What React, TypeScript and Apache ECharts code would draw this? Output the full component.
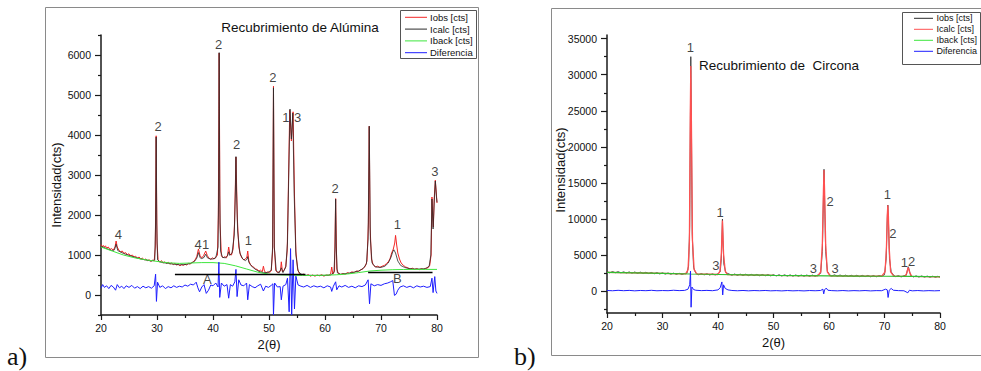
import React, { useEffect, useRef } from 'react';
import * as echarts from 'echarts';

const FONT = '"Liberation Sans", Arial, Helvetica, sans-serif';

// ---------- Panel a) Recubrimiento de Alúmina ----------
const aluIobs: number[][] = [
  [20,1260],[20.2,1190],[20.4,1240],[20.6,1200],[20.8,1230],[21,1170],[21.3,1200],[21.6,1140],[21.9,1160],[22.2,1120],[22.5,1200],[22.7,1350],[22.9,1200],[23.2,1120],[23.5,1080],[23.8,1100],[24.1,1040],[24.4,1060],[24.7,1010],[25,1030],[25.3,980],[25.6,1000],[25.9,950],[26.2,970],[26.5,920],[26.8,950],[27.1,900],[27.4,920],[27.7,880],[28,900],[28.3,860],[28.6,880],[28.9,840],[29.2,870],[29.5,850],[29.7,1200],[29.85,3980],[30,1300],[30.2,880],[30.5,820],[30.8,860],[31.1,800],[31.4,830],[31.7,790],[32,820],[32.3,770],[32.6,800],[32.9,760],[33.2,790],[33.5,750],[33.8,770],[34.1,730],[34.4,760],[34.7,740],[35,770],[35.3,750],[35.6,790],[35.9,770],[36.2,810],[36.5,830],[36.8,880],[37.1,960],[37.4,1150],[37.7,980],[38,930],[38.3,980],[38.7,1100],[39,980],[39.3,920],[39.6,890],[39.9,930],[40.2,900],[40.5,950],[40.8,1000],[40.95,2000],[41.1,6050],[41.25,1800],[41.5,980],[41.8,930],[42.1,960],[42.4,930],[42.6,1000],[42.8,1200],[43,1020],[43.3,1000],[43.6,1150],[43.85,1800],[44.1,3450],[44.35,1900],[44.6,1200],[44.9,1000],[45.2,920],[45.5,880],[45.8,900],[46.05,950],[46.2,1100],[46.4,850],[46.7,760],[47,720],[47.3,690],[47.6,650],[47.9,640],[48.2,600],[48.5,620],[48.8,580],[49,720],[49.2,590],[49.5,560],[49.8,580],[50.1,560],[50.4,600],[50.65,1100],[50.8,5220],[50.95,1200],[51.2,620],[51.5,560],[51.8,580],[52.05,600],[52.2,830],[52.4,580],[52.7,620],[53,720],[53.25,1100],[53.45,2600],[53.7,4620],[54,3850],[54.3,4580],[54.55,2500],[54.8,1100],[55.1,650],[55.4,540],[55.8,500],[56.2,520],[56.6,480],[57,510],[57.4,470],[57.8,500],[58.2,470],[58.6,500],[59,480],[59.4,510],[59.8,470],[60.2,500],[60.6,490],[61,520],[61.2,700],[61.4,520],[61.7,600],[61.9,2410],[62.1,650],[62.4,530],[62.8,510],[63.2,540],[63.6,520],[64,560],[64.4,540],[64.8,580],[65.2,560],[65.6,600],[66,590],[66.4,630],[66.8,660],[67.2,720],[67.5,850],[67.75,1800],[67.9,4220],[68.05,1700],[68.3,900],[68.6,760],[69,700],[69.4,720],[69.8,690],[70.2,720],[70.6,740],[71,790],[71.3,830],[71.6,900],[71.9,1050],[72.2,1150],[72.45,1300],[72.6,1490],[72.8,1250],[73,1050],[73.3,900],[73.6,800],[74,740],[74.4,700],[74.8,680],[75.2,650],[75.6,670],[76,640],[76.4,660],[76.8,630],[77.2,660],[77.6,640],[78,670],[78.4,680],[78.7,740],[78.95,1000],[79.1,2450],[79.25,1900],[79.35,1700],[79.5,2400],[79.7,2870],[79.85,2600],[80,2300]
];
const aluIcalc: number[][] = [
  [20,1220],[21,1160],[22,1110],[22.4,1130],[22.7,1270],[23,1110],[24,1040],[25,990],[26,945],[27,905],[28,875],[29,850],[29.6,880],[29.75,1800],[29.85,3950],[29.95,1800],[30.1,880],[30.5,830],[31,810],[32,790],[33,770],[34,755],[35,760],[36,790],[36.7,840],[37.1,920],[37.4,1060],[37.7,930],[38,910],[38.4,940],[38.7,1020],[39,930],[39.5,900],[40,900],[40.5,930],[40.9,1200],[41,2500],[41.1,6060],[41.2,2500],[41.35,1100],[41.7,940],[42.2,930],[42.6,980],[42.8,1080],[43,990],[43.4,1050],[43.8,1500],[44,2600],[44.1,3460],[44.2,2600],[44.4,1600],[44.8,1050],[45.3,900],[45.8,860],[46.1,900],[46.2,960],[46.4,820],[46.8,730],[47.5,650],[48.2,590],[49,560],[49.8,560],[50.4,620],[50.65,1200],[50.8,5180],[50.95,1200],[51.3,600],[51.8,550],[52.2,680],[52.5,560],[53,700],[53.3,1300],[53.5,2800],[53.75,4650],[54,3900],[54.25,4550],[54.5,2500],[54.8,1000],[55.2,600],[55.7,520],[56.5,495],[58,490],[60,490],[61,500],[61.6,560],[61.8,1200],[61.9,2400],[62,1200],[62.2,560],[62.8,520],[64,540],[65,565],[66,600],[66.8,660],[67.4,780],[67.7,1400],[67.9,4220],[68.1,1400],[68.4,800],[69,700],[70,690],[70.7,720],[71.3,800],[71.8,950],[72.1,1080],[72.3,1130],[72.6,1050],[73,850],[73.5,740],[74.2,690],[75,660],[76,650],[77,650],[78,660],[78.6,720],[78.9,1000],[79.1,2400],[79.3,1650],[79.5,2300],[79.7,2850],[79.9,2450],[80,2320]
];
const aluIback: number[][] = [
  [20,1200],[22,1100],[24,1000],[26,930],[28,880],[30,840],[32,805],[34,790],[36,800],[38,810],[40,810],[42,790],[44,730],[46,650],[48,570],[50,520],[52,505],[54,495],[56,490],[58,490],[60,495],[62,505],[64,525],[66,560],[68,600],[70,620],[72,632],[74,638],[76,640],[78,640],[80,640]
];
const aluDif: number[][] = [
  [20,170],[20.3,260],[20.6,190],[21,230],[21.4,160],[21.8,240],[22.2,200],[22.6,120],[22.9,260],[23.3,180],[23.7,220],[24.1,160],[24.5,230],[25,190],[25.5,240],[26,170],[26.5,210],[27,160],[27.5,220],[28,180],[28.5,210],[29,170],[29.5,230],[29.75,520],[29.9,-160],[30.1,320],[30.5,190],[31,230],[31.5,160],[32,210],[32.5,180],[33,230],[33.5,190],[34,220],[34.5,200],[35,250],[35.5,220],[36,270],[36.5,250],[37,320],[37.3,180],[37.6,80],[38,200],[38.4,260],[38.8,40],[39.2,120],[39.6,250],[40,230],[40.5,300],[40.9,200],[41.05,820],[41.2,-60],[41.5,300],[42,220],[42.5,260],[42.8,-80],[43.1,260],[43.5,220],[43.9,330],[44.1,640],[44.3,-40],[44.6,380],[45,250],[45.5,230],[46,300],[46.2,-120],[46.5,260],[47,210],[47.5,180],[48,230],[48.5,270],[49,100],[49.4,220],[49.9,190],[50.4,240],[50.7,280],[50.8,-500],[51,300],[51.5,200],[52,210],[52.2,-120],[52.5,220],[53,260],[53.3,420],[53.6,-420],[53.85,1160],[54.05,-500],[54.3,880],[54.55,-350],[54.8,470],[55.2,250],[55.7,220],[56.2,200],[56.8,240],[57.4,190],[58,230],[58.6,200],[59.2,220],[59.8,180],[60.4,230],[61,200],[61.2,90],[61.5,220],[61.9,330],[62.1,130],[62.5,230],[63,200],[63.6,240],[64.2,190],[64.8,220],[65.4,180],[66,230],[66.6,210],[67.2,250],[67.7,380],[67.95,-220],[68.2,280],[68.8,230],[69.4,260],[70,240],[70.6,280],[71.2,300],[71.7,330],[72.1,360],[72.4,-10],[72.7,20],[73,120],[73.4,200],[74,230],[74.6,190],[75.2,220],[75.8,180],[76.4,230],[77,200],[77.6,220],[78.2,190],[78.8,210],[79.1,420],[79.3,60],[79.6,460],[79.8,100],[80,40]
];
// reference lines A and B: [x1, x2, y]
const aluRefLines: number[][] = [[33.2, 56.5, 520], [67.7, 79.2, 558]];
// peak labels: [text, x, y]
const aluMarks: [string, number, number][] = [
  ['4', 23.1, 1510], ['2', 30.2, 4220], ['4', 37.35, 1270], ['1', 38.7, 1270],
  ['2', 41.0, 6260], ['2', 44.2, 3770], ['1', 46.3, 1370], ['2', 50.7, 5450],
  ['1', 53.0, 4430], ['3', 55.1, 4430], ['2', 61.8, 2660], ['1', 72.9, 1760],
  ['3', 79.6, 3100], ['A', 39.0, 380], ['B', 72.9, 420]
];
const aluYLabels = [0, 1000, 2000, 3000, 4000, 5000, 6000];
const aluYMinor = [-500, 500, 1500, 2500, 3500, 4500, 5500, 6500];

// ---------- Panel b) Recubrimiento de Circona ----------
const zrIobs: number[][] = [
  [20,2720],[20.5,2560],[21,2740],[21.5,2580],[22,2730],[22.5,2560],[23,2700],[23.5,2540],[24,2690],[24.5,2520],[25,2680],[25.5,2500],[26,2660],[26.5,2480],[27,2640],[27.5,2460],[28,2610],[28.5,2430],[29,2590],[29.5,2410],[30,2560],[30.5,2390],[31,2540],[31.5,2370],[32,2520],[32.5,2350],[33,2500],[33.5,2330],[34,2480],[34.4,2500],[34.7,3500],[34.9,9000],[35.05,26000],[35.1,32500],[35.2,24000],[35.35,8000],[35.6,3300],[36,2500],[36.5,2300],[37,2460],[37.5,2280],[38,2440],[38.5,2260],[39,2420],[39.5,2270],[40,2440],[40.4,2700],[40.6,4500],[40.75,8500],[40.8,10000],[40.9,7000],[41.05,3800],[41.4,2600],[42,2400],[42.5,2220],[43,2400],[43.5,2210],[44,2380],[44.5,2200],[45,2370],[45.5,2180],[46,2350],[46.5,2170],[47,2340],[47.5,2160],[48,2330],[48.5,2150],[49,2320],[49.5,2140],[50,2310],[50.5,2130],[51,2300],[51.5,2120],[52,2290],[52.5,2110],[53,2280],[53.5,2100],[54,2270],[54.5,2090],[55,2260],[55.5,2090],[56,2260],[56.5,2080],[57,2250],[57.5,2100],[58,2260],[58.5,2500],[58.8,5500],[59,13000],[59.1,16900],[59.2,13000],[59.4,5500],[59.7,2800],[60.1,2300],[60.5,2120],[61,2280],[61.5,2100],[62,2260],[62.5,2080],[63,2240],[63.5,2060],[64,2230],[64.5,2050],[65,2220],[65.5,2040],[66,2210],[66.5,2030],[67,2200],[67.5,2020],[68,2190],[68.5,2010],[69,2180],[69.5,2100],[70,2300],[70.3,4500],[70.5,10000],[70.6,11950],[70.7,10000],[70.9,4500],[71.2,2700],[71.6,2250],[72,2040],[72.5,2170],[73,2000],[73.5,2160],[73.9,2200],[74.15,3000],[74.3,3400],[74.45,3000],[74.7,2200],[75.2,1990],[75.7,2140],[76.2,1980],[76.7,2130],[77.2,1970],[77.7,2110],[78.2,1950],[78.7,2100],[79.2,1940],[79.6,2080],[80,1960]
];
const zrIcalc: number[][] = [
  [20,2620],[25,2560],[30,2480],[34.2,2420],[34.6,3000],[34.85,7000],[35,24000],[35.1,31200],[35.2,24000],[35.4,7000],[35.7,3000],[36.2,2400],[40,2330],[40.35,2800],[40.6,5200],[40.8,9800],[41,5200],[41.3,2800],[41.7,2320],[45,2270],[50,2220],[55,2180],[58,2160],[58.5,2700],[58.8,6500],[59,14000],[59.1,16800],[59.2,14000],[59.4,6500],[59.7,2700],[60.2,2150],[65,2120],[69.5,2095],[70.1,2700],[70.35,6000],[70.5,10500],[70.6,11900],[70.7,10500],[70.85,6000],[71.1,2700],[71.7,2085],[73.7,2075],[74,2500],[74.25,3300],[74.35,3350],[74.55,2600],[74.9,2070],[75,2060],[80,2020]
];
const zrIback: number[][] = [
  [20,2620],[25,2560],[30,2480],[35,2400],[40,2330],[45,2270],[50,2220],[55,2180],[60,2150],[65,2120],[70,2090],[75,2060],[80,2020]
];
const zrDif: number[][] = [
  [20,120],[21,80],[22,140],[23,90],[24,130],[25,70],[26,120],[27,90],[28,140],[29,80],[30,110],[31,90],[32,150],[33,100],[34,130],[34.6,300],[34.9,900],[35.05,2800],[35.15,-2200],[35.3,600],[35.6,250],[36,150],[37,100],[38,130],[39,90],[40,200],[40.4,500],[40.7,1300],[40.85,-500],[41,900],[41.3,400],[41.8,200],[42.5,120],[43.5,80],[44.5,120],[45.5,70],[46.5,110],[47.5,80],[48.5,120],[49.5,70],[50.5,100],[51.5,60],[52.5,110],[53.5,70],[54.5,100],[55.5,60],[56.5,110],[57.5,80],[58.5,120],[58.9,300],[59.05,-350],[59.2,200],[59.5,450],[59.8,150],[60.5,100],[61.5,70],[62.5,110],[63.5,60],[64.5,100],[65.5,70],[66.5,110],[67.5,60],[68.5,100],[69.5,90],[70.2,300],[70.5,200],[70.65,-850],[70.85,150],[71.2,400],[71.6,150],[72.5,100],[73.5,80],[74.2,-200],[74.5,150],[75,70],[76,110],[77,60],[78,100],[79,70],[80,100]
];
const zrMarks: [string, number, number][] = [
  ['1', 35.0, 33800], ['1', 40.4, 10970], ['3', 39.6, 3610], ['2', 60.2, 12500],
  ['3', 57.2, 3150], ['3', 61.1, 3150], ['1', 70.5, 13430], ['2', 71.5, 8010],
  ['1', 73.6, 3980], ['2', 74.9, 4170]
];
const zrYLabels = [0, 5000, 10000, 15000, 20000, 25000, 30000, 35000];
const zrYMinor = [-2500, 2500, 7500, 12500, 17500, 22500, 27500, 32500];

const seriesNames = ['Iobs [cts]', 'Icalc [cts]', 'Iback [cts]', 'Diferencia'];

const RED = '#f22626';
const RED_B = '#ff5050';
const DARK = '#2a2a2a';
const GREEN = '#3ee63e';
const BLUE = '#1e1eff';
const AXIS = '#1a1a1a';

function xAxisFor(gi: number) {
  return {
    type: 'value', gridIndex: gi, min: 20, max: 80, interval: 10,
    axisLine: { show: true, onZero: false, lineStyle: { color: AXIS, width: 1.5 } },
    axisTick: { show: true, length: 5, lineStyle: { color: AXIS, width: 1.2 } },
    minorTick: { show: true, splitNumber: 2, length: 3, lineStyle: { color: AXIS, width: 1.2 } },
    axisLabel: { fontSize: 10.5, color: '#111', margin: 7, fontFamily: FONT },
    splitLine: { show: false },
    name: '2(θ)', nameLocation: 'middle', nameGap: 23,
    nameTextStyle: { fontSize: 13, color: '#111', fontFamily: FONT }
  };
}
function yMain(gi: number, min: number, max: number, labels: number[]) {
  return {
    type: 'value', gridIndex: gi, position: 'left', min, max,
    axisLine: { show: true, onZero: false, lineStyle: { color: AXIS, width: 1.5 } },
    axisTick: { show: true, customValues: labels, length: 6, lineStyle: { color: AXIS, width: 1.2 } },
    axisLabel: {
      customValues: labels, fontSize: 10.5, color: '#111', margin: 10, fontFamily: FONT,
      formatter: (v: number) => String(v)
    },
    splitLine: { show: false }
  };
}
function yMinor(gi: number, min: number, max: number, ticks: number[]) {
  return {
    type: 'value', gridIndex: gi, position: 'left', min, max,
    axisLine: { show: false },
    axisTick: { show: true, customValues: ticks, length: 3, lineStyle: { color: AXIS, width: 1.2 } },
    axisLabel: { show: false },
    splitLine: { show: false }
  };
}
function lineSeries(name: string, data: number[][], color: string, xi: number, yi: number, width = 1) {
  return {
    type: 'line', name, data, xAxisIndex: xi, yAxisIndex: yi, symbol: 'none',
    color, lineStyle: { color, width }, silent: true
  };
}
function markSeries(marks: [string, number, number][], xi: number, yi: number) {
  return {
    type: 'scatter', xAxisIndex: xi, yAxisIndex: yi, symbolSize: 0.1, silent: true, z: 6,
    itemStyle: { color: 'rgba(0,0,0,0)' },
    data: marks.map(([t, x, y]) => ({ name: t, value: [x, y] })),
    label: {
      show: true, position: 'inside', formatter: (p: any) => p.name,
      fontSize: 13, color: '#111', fontFamily: FONT
    }
  };
}
// legend box drawn as graphic: box rect, then one line + text per series
function legendBox(bx: number, by: number, bw: number, bh: number, lx1: number, lx2: number, tx: number,
                   y0: number, dy: number, fs: number, colors: string[]) {
  const children: any[] = [
    { type: 'rect', shape: { x: bx + 0.5, y: by + 0.5, width: bw, height: bh }, style: { fill: '#fff', stroke: '#555', lineWidth: 1 } }
  ];
  seriesNames.forEach((n, i) => {
    const y = y0 + i * dy;
    children.push({ type: 'line', shape: { x1: lx1, y1: y, x2: lx2, y2: y }, style: { stroke: colors[i], lineWidth: 1 } });
    children.push({ type: 'text', x: tx, y, style: { text: n, fontSize: fs, fontFamily: FONT, fill: '#111', align: 'left', verticalAlign: 'middle' } });
  });
  return { type: 'group', silent: true, z: 10, children };
}

const option: any = {
  animation: false,
  backgroundColor: '#fff',
  textStyle: { fontFamily: FONT },
  grid: [
    { left: 101, top: 35, width: 336, height: 280 },
    { left: 607, top: 35, width: 333, height: 278 }
  ],
  xAxis: [xAxisFor(0), xAxisFor(1)],
  yAxis: [
    yMain(0, -500, 6500, aluYLabels), yMinor(0, -500, 6500, aluYMinor),
    yMain(1, -3000, 35500, zrYLabels), yMinor(1, -3000, 35500, zrYMinor)
  ],
  graphic: [
    { type: 'rect', shape: { x: 45.5, y: 7.5, width: 433, height: 350 }, style: { fill: 'none', stroke: '#8a8a8a', lineWidth: 1 }, silent: true },
    { type: 'rect', shape: { x: 551.5, y: 8.5, width: 440, height: 347 }, style: { fill: 'none', stroke: '#8a8a8a', lineWidth: 1 }, silent: true },
    legendBox(400, 10, 76, 48, 405, 427, 430, 17.3, 11.8, 9.5, [RED, DARK, GREEN, BLUE]),
    legendBox(902, 12, 78, 52, 914, 933, 936.5, 18.3, 11, 9, [DARK, RED_B, GREEN, BLUE]),
    { type: 'text', x: 7, y: 356, style: { text: 'a)', fontSize: 26, fontFamily: '"Liberation Serif", "Times New Roman", serif', fill: '#111', align: 'left', verticalAlign: 'middle' } },
    { type: 'text', x: 514, y: 356, style: { text: 'b)', fontSize: 26, fontFamily: '"Liberation Serif", "Times New Roman", serif', fill: '#111', align: 'left', verticalAlign: 'middle' } },
    { type: 'text', x: 300, y: 27, style: { text: 'Recubrimiento de Alúmina', fontSize: 13.5, fontFamily: FONT, fill: '#111', align: 'center', verticalAlign: 'middle' } },
    { type: 'text', x: 779, y: 65, style: { text: 'Recubrimiento de  Circona', fontSize: 13.5, fontFamily: FONT, fill: '#111', align: 'center', verticalAlign: 'middle' } },
    { type: 'text', x: 56, y: 185, rotation: Math.PI / 2, style: { text: 'Intensidad(cts)', fontSize: 13, fontFamily: FONT, fill: '#111', align: 'center', verticalAlign: 'middle' } },
    { type: 'text', x: 560, y: 170, rotation: Math.PI / 2, style: { text: 'Intensidad(cts)', fontSize: 13, fontFamily: FONT, fill: '#111', align: 'center', verticalAlign: 'middle' } }
  ],
  series: [
    lineSeries(seriesNames[0], aluIobs, RED, 0, 0),
    lineSeries(seriesNames[1], aluIcalc, DARK, 0, 0, 0.8),
    lineSeries(seriesNames[2], aluIback, GREEN, 0, 0),
    lineSeries(seriesNames[3], aluDif, BLUE, 0, 0),
    {
      type: 'line', name: 'A-B', data: [], xAxisIndex: 0, yAxisIndex: 0, symbol: 'none', silent: true,
      markLine: {
        silent: true, symbol: ['none', 'none'], label: { show: false },
        lineStyle: { color: '#000', width: 1.3, type: 'solid' },
        data: aluRefLines.map(([x1, x2, y]) => [{ coord: [x1, y] }, { coord: [x2, y] }])
      }
    },
    markSeries(aluMarks, 0, 0),
    lineSeries(seriesNames[0], zrIobs, DARK, 1, 2, 0.8),
    lineSeries(seriesNames[1], zrIcalc, RED_B, 1, 2, 1.3),
    lineSeries(seriesNames[2], zrIback, '#2fbf2f', 1, 2, 1.2),
    lineSeries(seriesNames[3], zrDif, BLUE, 1, 2),
    markSeries(zrMarks, 1, 2)
  ]
};

export default function App() {
  const ref = useRef<HTMLDivElement>(null);
  useEffect(() => {
    const chart = echarts.init(ref.current!, null, { renderer: 'svg' });
    chart.setOption(option);
    return () => chart.dispose();
  }, []);
  return (
    <div
      ref={ref}
      style={{ position: 'fixed', left: 0, top: 0, width: 981, height: 371, background: '#fff' }}
    />
  );
}
